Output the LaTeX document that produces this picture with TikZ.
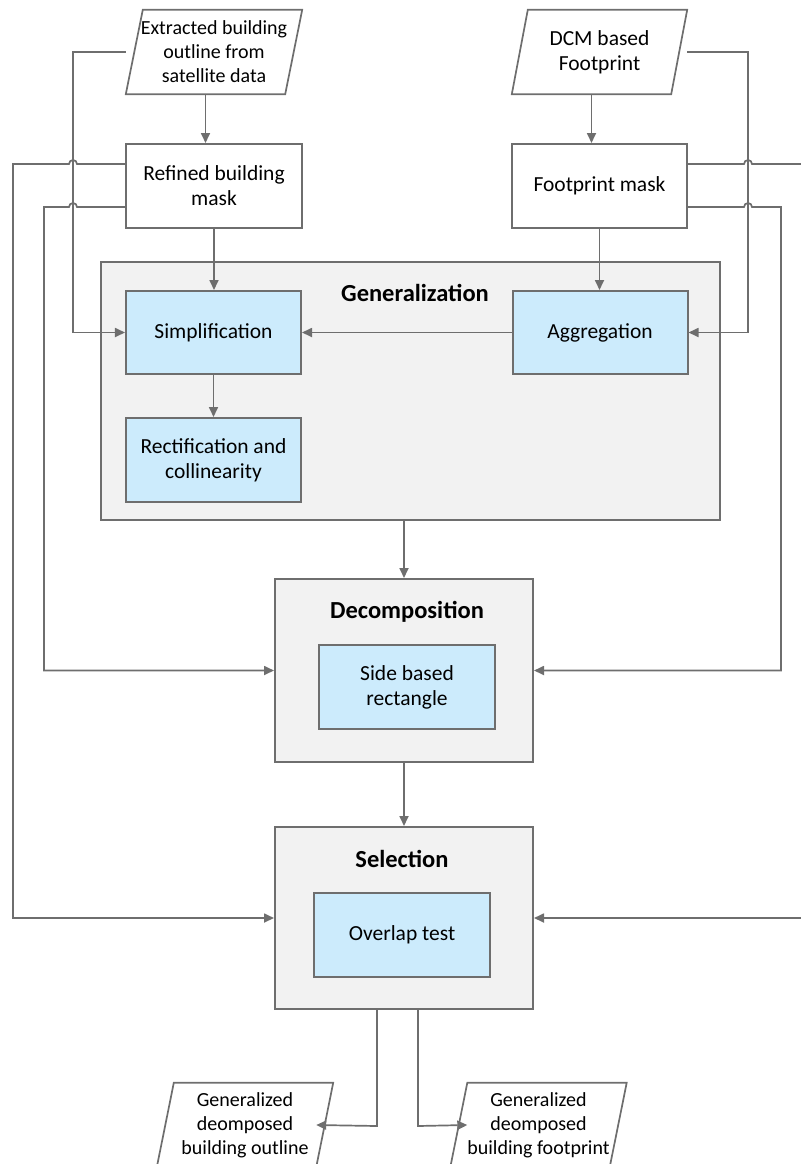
\documentclass[tikz,border=0pt]{standalone}
\usepackage{fontspec}
\setmainfont{Carlito}
\usetikzlibrary{arrows.meta,positioning}

\definecolor{linegray}{HTML}{6E6E6E}
\definecolor{panelgray}{HTML}{F2F2F2}
\definecolor{stepblue}{HTML}{CCEBFC}

\tikzset{
  conn/.style={draw=linegray, line width=1.7bp, -{Triangle[length=10bp,width=9bp]}},
  plainbox/.style={draw=linegray, line width=2bp, fill=white, align=center,
    inner sep=0pt, font=\fontsize{21.5bp}{25bp}\selectfont},
  stepbox/.style={plainbox, fill=stepblue, minimum width=175bp, minimum height=83bp},
  panel/.style={draw=linegray, line width=2bp, fill=panelgray, inner sep=0pt},
  paneltitle/.style={font=\bfseries\fontsize{24.5bp}{28bp}\selectfont, inner sep=0pt},
  iotext/.style={align=center, inner sep=0pt, minimum width=159bp, minimum height=84bp,
    font=\fontsize{20bp}{24bp}\selectfont},
}

% slanted data box around a text node
\newcommand{\iobox}[2]{%
  \draw[draw=linegray, line width=1.7bp]
    ([xshift=#2]#1.north west) -- ([xshift=#2]#1.north east)
    -- ([xshift=-#2]#1.south east) -- ([xshift=-#2]#1.south west) -- cycle;}

\begin{document}
\begin{tikzpicture}[x=1bp,y=-1bp]
\useasboundingbox (0,0) rectangle (801,1164);

% inputs
\node[iotext] (extr) at (214,52) {Extracted building\\outline from\\satellite data};
\iobox{extr}{8.5bp}
\node[iotext, font=\fontsize{21.5bp}{25bp}\selectfont] (dcm) at (599.5,52) {DCM based\\Footprint};
\iobox{dcm}{8bp}

% masks
\node[plainbox, minimum width=176bp, minimum height=84bp] (refined) at (214,186) {Refined building\\mask};
\node[plainbox, minimum width=175bp, minimum height=84bp] (footprint) at (599.5,186) {Footprint mask};

% generalization panel
\node[panel, minimum width=619bp, minimum height=258bp] (gen) at (410.5,391) {};
\node[paneltitle] (gentitle) at (415,293) {Generalization};
\node[stepbox] (simp) at (213.5,332.5) {Simplification};
\node[stepbox] (aggr) at (600,332.5) {Aggregation};
\node[stepbox, minimum height=84bp] (rect) at (213.5,460) {Rectification and\\collinearity};

% decomposition panel
\node[panel, minimum width=258bp, minimum height=183bp] (decomp) at (404,670.5) {};
\node[paneltitle] (dectitle) at (407,612) {Decomposition};
\node[stepbox, minimum width=176bp, minimum height=84bp] (side) at (407,687) {Side based\\rectangle};

% selection panel
\node[panel, minimum width=258bp, minimum height=182bp] (sel) at (404,918) {};
\node[paneltitle] (seltitle) at (402,859) {Selection};
\node[stepbox, minimum width=176bp, minimum height=84bp] (overlap) at (402,935) {Overlap test};

% outputs
\node[iotext] (outl) at (245,1125) {Generalized\\deomposed\\building outline};
\iobox{outl}{8.5bp}
\node[iotext] (outf) at (538.5,1125) {Generalized\\deomposed\\building footprint};
\iobox{outf}{8.5bp}

% main flow
\draw[conn] ([xshift=-8.5bp]extr.south) -- ([xshift=-8.5bp]extr.south |- refined.north);
\draw[conn] ([xshift=-8bp]dcm.south) -- ([xshift=-8bp]dcm.south |- footprint.north);
\draw[conn] (refined.south) -- (refined.south |- simp.north);
\draw[conn] (footprint.south) -- (footprint.south |- aggr.north);
\draw[conn] (aggr.west) -- (simp.east);
\draw[conn] (simp.south) -- (rect.north);
\draw[conn] (decomp.north |- gen.south) -- (decomp.north);
\draw[conn] (decomp.south) -- (sel.north);

% inputs straight into generalization
\draw[conn] ([xshift=-8.5bp]extr.west) -- (73,52) -- (73,332.5) -- (simp.west);
\draw[conn] ([xshift=8bp]dcm.east) -- (748,52) -- (748,332.5) -- (aggr.east);

% masks into decomposition and selection (hopping over the input lines)
\draw[conn] ([yshift=22bp]refined.west) -- (77,164) arc[start angle=0,end angle=180,radius=4bp]
  -- (13,164) -- (13,918) -- (sel.west);
\draw[conn] ([yshift=-21bp]refined.west) -- (77,207) arc[start angle=0,end angle=180,radius=4bp]
  -- (44,207) -- (44,670.5) -- (decomp.west);
\draw[conn] ([yshift=22bp]footprint.east) -- (744,164) arc[start angle=180,end angle=0,radius=4bp]
  -- (806,164) -- (806,918) -- (sel.east);
\draw[conn] ([yshift=-21bp]footprint.east) -- (744,207) arc[start angle=180,end angle=0,radius=4bp]
  -- (781,207) -- (781,670.5) -- (decomp.east);

% results
\draw[conn] ([xshift=-27bp]sel.south) -- ++(0,116) -- ([xshift=-8.5bp]outl.east);
\draw[conn] ([xshift=14bp]sel.south) -- ++(0,116) -- ([xshift=8.5bp]outf.west);
\end{tikzpicture}
\end{document}
